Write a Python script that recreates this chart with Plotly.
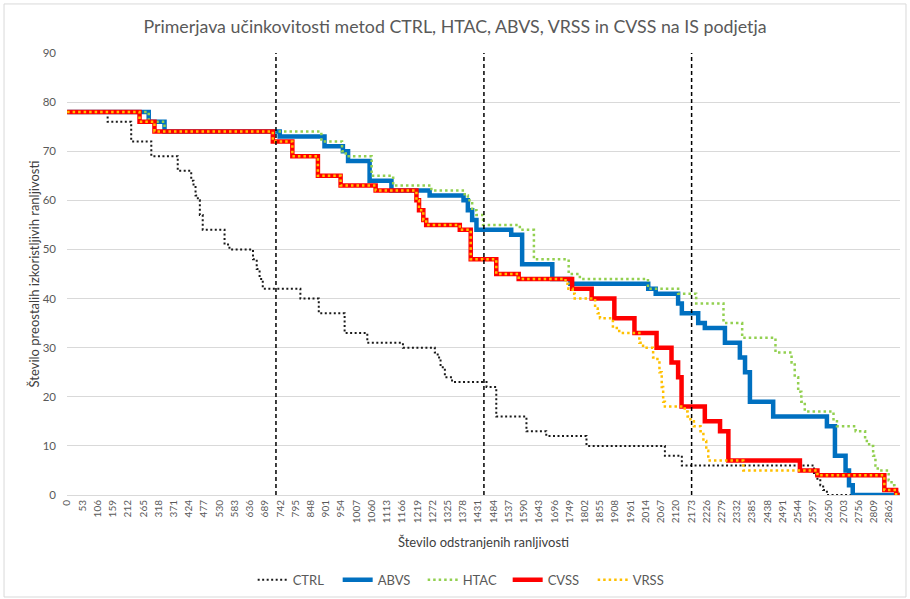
import plotly.graph_objects as go

# x axis: number of removed vulnerabilities (categories 0..2899)
n_removed = 2900
tick_labels = list(range(0, 2863, 53))
phase_marks = [727, 1451, 2174]

# step breakpoints: x where the value changes, and the new value
ctrl_x = [0, 141, 223, 293, 385, 432, 440, 447, 455, 462, 472, 548, 565, 647, 660, 670, 681,
          812, 876, 966, 1045, 1169, 1280, 1290, 1300, 1315, 1340, 1460, 1494, 1599, 1668,
          1808, 2081, 2140, 2600, 2612, 2622, 2632, 2645]
ctrl_y = [78, 76, 72, 69, 66, 64, 63, 61, 60, 57, 54, 51, 50, 48, 46, 44, 42,
          40, 37, 33, 31, 30, 29, 28, 26, 24, 23, 22, 16, 13, 12,
          10, 8, 6, 4, 3, 2, 1, 0]

abvs_x = [0, 284, 339, 740, 896, 960, 978, 1053, 1129, 1262, 1380, 1395, 1410, 1425, 1546,
          1584, 1689, 1752, 2023, 2049, 2127, 2140, 2197, 2220, 2290, 2342, 2360, 2377, 2458,
          2645, 2673, 2710, 2722, 2735]
abvs_y = [78, 76, 74, 73, 71, 70, 68, 64, 62, 61, 60, 58, 56, 54, 53,
          47, 44, 43, 42, 41, 39, 37, 35, 34, 31, 28, 25, 19, 16,
          14, 8, 5, 2, 0]

htac_x = [0, 284, 339, 885, 957, 970, 1060, 1135, 1268, 1384, 1395, 1410, 1425, 1448, 1576,
          1625, 1746, 1785, 2022, 2127, 2190, 2285, 2350, 2466, 2522, 2533, 2545, 2556, 2568,
          2668, 2680, 2745, 2778, 2792, 2806, 2814, 2822, 2860, 2870, 2880, 2892]
htac_y = [78, 76, 74, 72, 70, 69, 65, 63, 62, 61, 60, 58, 57, 55, 54,
          48, 45, 44, 42, 41, 39, 35, 32, 29, 27, 24, 21, 19, 17,
          15, 14, 13, 11, 10, 8, 6, 5, 3, 2, 1, 0]

cvss_x = [0, 252, 304, 716, 784, 873, 952, 1074, 1216, 1225, 1240, 1250, 1367, 1405, 1494,
          1572, 1758, 1826, 1905, 1975, 2052, 2104, 2127, 2139, 2220, 2273, 2302, 2551, 2612,
          2845, 2886]
cvss_y = [78, 76, 74, 72, 69, 65, 63, 62, 60, 58, 56, 55, 54, 48, 45,
          44, 42, 40, 36, 33, 30, 27, 24, 18, 15, 13, 7, 5, 4,
          1, 0]

vrss_x = [0, 252, 304, 716, 784, 873, 952, 1074, 1216, 1225, 1240, 1250, 1367, 1405, 1494,
          1572, 1735, 1745, 1760, 1767, 1838, 1847, 1855, 1900, 1922, 1992, 2005, 2040, 2055,
          2062, 2070, 2075, 2081, 2150, 2160, 2170, 2182, 2205, 2215, 2225, 2232, 2354, 2612,
          2845, 2886]
vrss_y = [78, 76, 74, 72, 69, 65, 63, 62, 60, 58, 56, 55, 54, 48, 45,
          44, 43, 42, 41, 40, 38, 37, 36, 34, 33, 31, 30, 28, 27,
          25, 22, 19, 18, 17, 16, 15, 14, 13, 11, 9, 7, 5, 4,
          1, 0]

series = [
    ("CTRL", ctrl_x, ctrl_y, "#1a1a1a", 2, "2px,2.5px"),
    ("ABVS", abvs_x, abvs_y, "#0070C0", 4.5, "solid"),
    ("HTAC", htac_x, htac_y, "#92D050", 2.5, "2.5px,3px"),
    ("CVSS", cvss_x, cvss_y, "#FF0000", 4.5, "solid"),
    ("VRSS", vrss_x, vrss_y, "#FFC000", 2.5, "2.5px,3px"),
]

fig = go.Figure()
for name, xs, ys, color, width, dash in series:
    # extend the last level to the end of the axis
    fig.add_trace(go.Scatter(
        x=xs + [n_removed - 1], y=ys + [ys[-1]], name=name, mode="lines",
        line=dict(color=color, width=width, dash=dash, shape="hv"),
    ))

for xm in phase_marks:
    fig.add_shape(type="line", x0=xm, x1=xm, y0=0, y1=90, xref="x", yref="y",
                  line=dict(color="#000000", width=1.5, dash="4px,3px"))

# chart area border
fig.add_shape(type="rect", xref="paper", yref="paper", x0=-0.0756, x1=1.0072,
              y0=-0.2308, y1=1.111, line=dict(color="#D9D9D9", width=1), layer="below")

font_family = "Lato, 'Open Sans', sans-serif"
fig.update_layout(
    width=910, height=599,
    margin=dict(l=67, r=10, t=53, b=104),
    paper_bgcolor="white", plot_bgcolor="white",
    font=dict(family=font_family, color="#595959"),
    title=dict(text="Primerjava učinkovitosti metod CTRL, HTAC, ABVS, VRSS in CVSS na IS podjetja",
               x=0.5, xanchor="center", y=0.955, yanchor="middle",
               font=dict(size=17.8, color="#595959")),
    showlegend=True,
    legend=dict(orientation="h", x=0.478, xanchor="center", yref="container",
                y=0.032, yanchor="middle", entrywidth=40,
                font=dict(size=13, color="#595959"), traceorder="normal"),
)
fig.update_xaxes(
    range=[-0.5, n_removed - 0.5], tickmode="array", tickvals=tick_labels,
    ticktext=[str(v) for v in tick_labels], tickangle=-90, automargin=False,
    tickfont=dict(size=10, color="#595959"), showgrid=False, zeroline=False,
    showline=True, linecolor="#D9D9D9", linewidth=1, ticks="",
    title=dict(text="Število odstranjenih ranljivosti", font=dict(size=13, color="#404040"),
               standoff=15),
)
fig.update_yaxes(
    range=[0, 90], dtick=10, tickfont=dict(size=11.5, color="#595959"), automargin=False,
    showgrid=True, gridcolor="#D9D9D9", gridwidth=1, zeroline=False, showline=False,
    ticklabelstandoff=10,
    title=dict(text="Število preostalih izkoristljivih ranljivosti",
               font=dict(size=13, color="#404040"), standoff=0),
)

# drop the browser's default page margin so the figure sits at the window origin
fig.write_html("out.html", config={"displayModeBar": False},
               post_script="document.body.style.margin='0';")
